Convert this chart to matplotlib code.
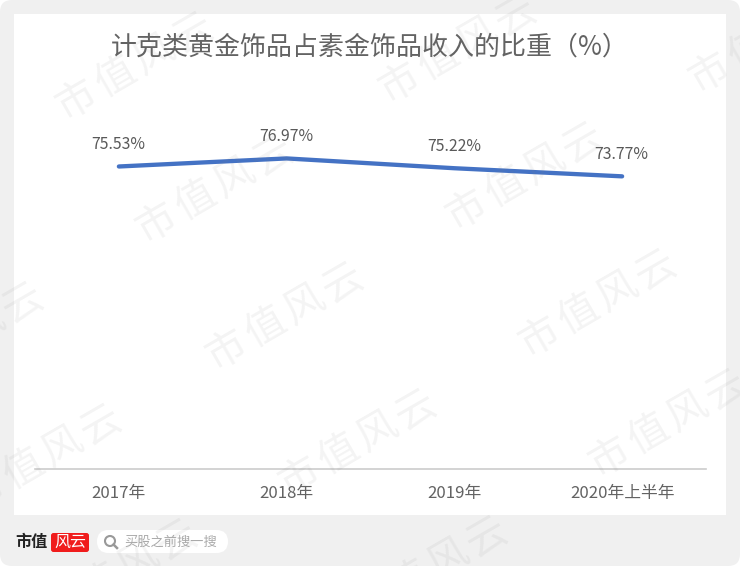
import matplotlib
matplotlib.use('Agg')
import matplotlib.pyplot as plt
from matplotlib.patches import FancyBboxPatch, Rectangle, Circle

plt.rcParams['font.family'] = ['Noto Sans CJK SC', 'DejaVu Sans']

# 数据
categories = ['2017年', '2018年', '2019年', '2020年上半年']
values = [75.53, 76.97, 75.22, 73.77]
labels = ['75.53%', '76.97%', '75.22%', '73.77%']
titulo = '计克类黄金饰品占素金饰品收入的比重（%）'

W, H = 740, 566
fig = plt.figure(figsize=(W / 100, H / 100), dpi=100, facecolor='white')

# fondo en pixeles
bg = fig.add_axes([0, 0, 1, 1], zorder=0)
bg.set_xlim(0, W)
bg.set_ylim(H, 0)
bg.axis('off')
bg.add_patch(FancyBboxPatch((0, 0), W, H, boxstyle='round,pad=0,rounding_size=12',
                            fc='#f0f0f0', ec='none'))
bg.add_patch(Rectangle((14, 14), 712, 501, fc='white', ec='none'))

# grafica
ax = fig.add_axes([35 / W, 1 - 468.5 / H, 671 / W, 440 / H], zorder=1)
ax.patch.set_alpha(0)
x = range(len(categories))
ax.plot(x, values, color='#4472c4', lw=3.1, solid_capstyle='round', solid_joinstyle='round')
ax.set_xlim(-0.5, 3.5)
ax.set_ylim(21.6, 21.6 + 440 / 5.6)
ax.set_xticks(list(x))
ax.set_xticklabels(categories, fontsize=12.1, color='#636363')
ax.tick_params(axis='x', length=0, pad=12)
ax.set_yticks([])
for s in ['top', 'left', 'right']:
    ax.spines[s].set_visible(False)
ax.spines['bottom'].set_color('#cccccc')
ax.spines['bottom'].set_linewidth(1.2)

for i, v in enumerate(values):
    ax.annotate(labels[i], (i, v), xytext=(-0.5, 22), textcoords='offset pixels',
                ha='center', va='center', fontsize=11.4, color='#595959')

fig.text(370 / W, 1 - 47 / H, titulo, ha='center', va='center', fontsize=18.7, color='#636363')

# pie
bg.text(15, 542, '市值', fontsize=11.6, fontweight='bold', color='#222222', va='center', ha='left', zorder=3)
bg.add_patch(FancyBboxPatch((51, 533), 38, 19, boxstyle='round,pad=0,rounding_size=2.5',
                            fc='#f01c1c', ec='none', zorder=3))
bg.text(70, 542, '风云', fontsize=11.5, color='white', ha='center', va='center', zorder=4)
bg.add_patch(FancyBboxPatch((97, 530), 131, 23, boxstyle='round,pad=0,rounding_size=11.5',
                            fc='white', ec='none', zorder=3))
bg.add_patch(Circle((110, 541), 5, fc='none', ec='#999999', lw=1.5, zorder=4))
bg.plot([113.5, 117], [544.5, 548], color='#999999', lw=1.8, zorder=4)
bg.text(124, 542, '买股之前搜一搜', fontsize=9.5, color='#aaaaaa', va='center', ha='left', zorder=4)

# marca de agua, centro del primer caracter de cada una
marcas = [(77, 100), (157, 223), (400, 83), (467, 210), (710, 73), (227, 350), (-15, 492),
          (300, 477), (-93, 370), (540, 337), (610, 457), (371, 604), (61, 607)]
for mx, my in marcas:
    for n, ch in enumerate('市值风云'):
        cx, cy = mx + n * 38.7, my - n * 22.3
        if cx < -25 or cx > W + 25 or cy < -25 or cy > H + 25:
            continue
        fig.text(cx / W, 1 - cy / H, ch, fontsize=29, color='#808080', alpha=0.09,
                 rotation=30, ha='center', va='center', rotation_mode='anchor', zorder=5)

fig.savefig('out.png', dpi=100, facecolor='white')
